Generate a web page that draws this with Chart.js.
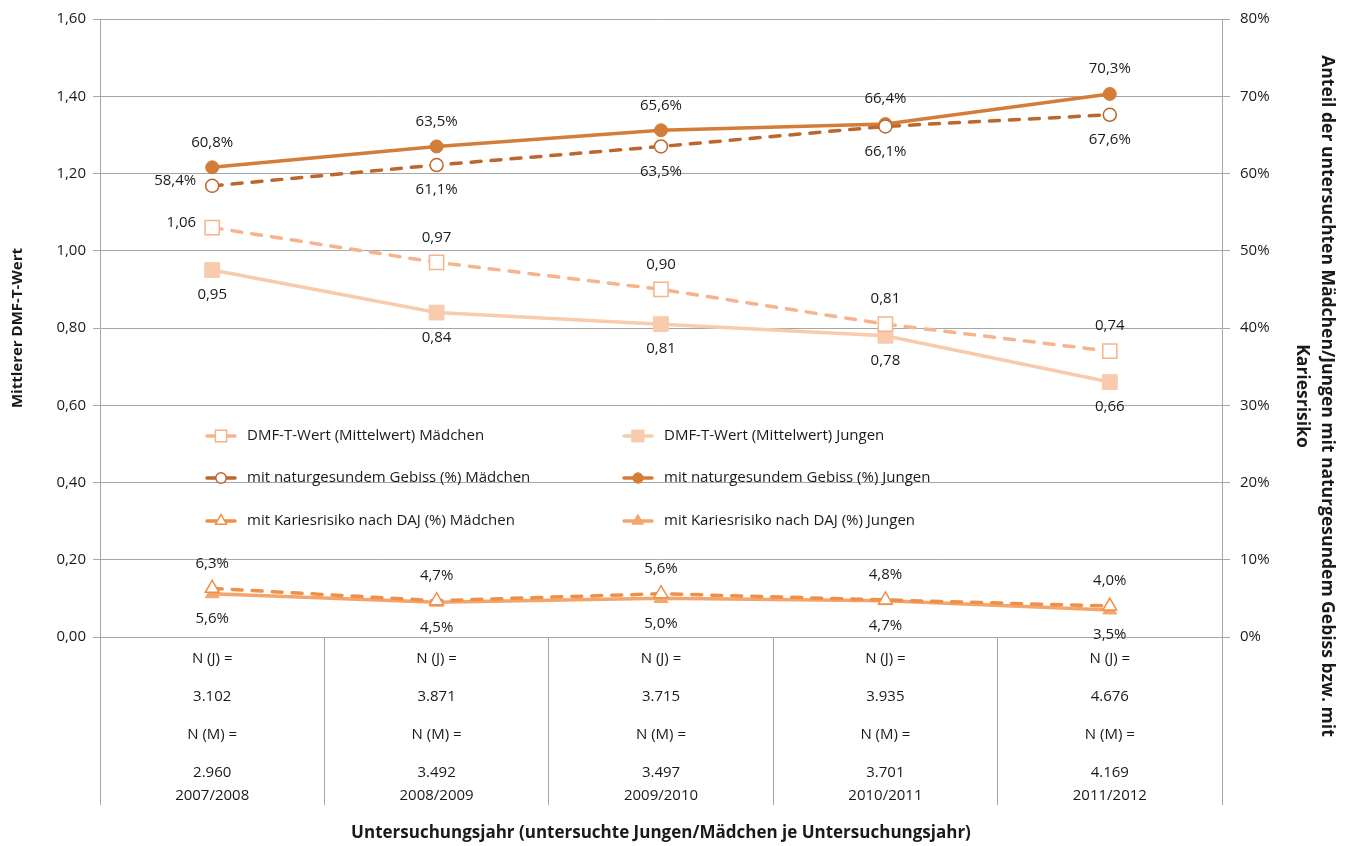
<!DOCTYPE html>
<html lang="de">
<head>
<meta charset="utf-8">
<title>DMF-T-Wert und Kariesrisiko</title>
<script src="https://cdn.jsdelivr.net/npm/chart.js@4.4.1/dist/chart.umd.min.js"></script>
<style>
  html, body { margin: 0; padding: 0; background: #fff; }
  #wrap { position: relative; width: 1347px; height: 846px; }
</style>
</head>
<body>
<div id="wrap"><canvas id="chart"></canvas></div>
<script>
// Untersuchungsjahre mit Anzahl untersuchter Jungen (J) / Mädchen (M)
var JAHRE = ['2007/2008', '2008/2009', '2009/2010', '2010/2011', '2011/2012'];
var N_JUNGEN = ['3.102', '3.871', '3.715', '3.935', '4.676'];
var N_MAEDCHEN = ['2.960', '3.492', '3.497', '3.701', '4.169'];

// mittlerer DMF-T-Wert (linke Achse)
var DMFT_MAEDCHEN = [1.06, 0.97, 0.90, 0.81, 0.74];
var DMFT_JUNGEN = [0.95, 0.84, 0.81, 0.78, 0.66];

// Anteile in % (rechte Achse)
var GESUND_MAEDCHEN = [58.4, 61.1, 63.5, 66.1, 67.6];
var GESUND_JUNGEN = [60.8, 63.5, 65.6, 66.4, 70.3];
var RISIKO_MAEDCHEN = [6.3, 4.7, 5.6, 4.8, 4.0];
var RISIKO_JUNGEN = [5.6, 4.5, 5.0, 4.7, 3.5];

var LEFT_TICKS = [0, 0.2, 0.4, 0.6, 0.8, 1.0, 1.2, 1.4, 1.6];
var RIGHT_TICKS = [0, 10, 20, 30, 40, 50, 60, 70, 80];

var RIGHT_TITLE = ['Anteil der untersuchten Mädchen/Jungen mit naturgesundem Gebiss bzw. mit', 'Kariesrisiko'];

var FONT = "'Open Sans', 'DejaVu Sans', sans-serif";
var GRID = '#a6a6a6';
var INK = '#1a1a1a';

function fmtDmft(v) { return v.toFixed(2).replace('.', ','); }
function fmtPct(v) { return v.toFixed(1).replace('.', ',') + '%'; }

// Zeilen der Kategorie-Beschriftung; Leerzeilen geben den Abstand vor (Zeilenhöhe 7,6px)
function leer(n) { var a = []; for (var k = 0; k < n; k++) a.push(''); return a; }
var kategorien = JAHRE.map(function (j, i) {
  return [].concat(
    ['N (J) ='], leer(4),
    [N_JUNGEN[i]], leer(4),
    ['N (M) ='], leer(4),
    [N_MAEDCHEN[i]], leer(2),
    [j]
  );
});

function serie(label, data, axis, color, dashed, style, radius, hollow, fmt, pos) {
  return {
    label: label,
    data: data,
    yAxisID: axis,
    borderColor: color,
    backgroundColor: color,
    borderWidth: 3.5,
    borderDash: dashed ? [10, 10] : [],
    borderCapStyle: 'round',
    pointStyle: style,
    pointRadius: radius,
    pointBorderColor: color,
    pointBackgroundColor: hollow ? '#ffffff' : color,
    pointBorderWidth: hollow ? 1.5 : 1,
    tension: 0,
    fill: false,
    fmt: fmt,
    labelPos: pos,
  };
}

var datasets = [
  serie('DMF-T-Wert (Mittelwert) Mädchen', DMFT_MAEDCHEN, 'y', '#f5b48c', true, 'rect', 10, true, fmtDmft,
    ['left', 'above', 'above', 'above', 'above']),
  serie('DMF-T-Wert (Mittelwert) Jungen', DMFT_JUNGEN, 'y', '#f8cbad', false, 'rect', 10.5, false, fmtDmft,
    ['below', 'below', 'below', 'below', 'below']),
  serie('mit naturgesundem Gebiss (%) Mädchen', GESUND_MAEDCHEN, 'y2', '#bb672d', true, 'circle', 6.5, true, fmtPct,
    ['left', 'below', 'below', 'below', 'below']),
  serie('mit naturgesundem Gebiss (%) Jungen', GESUND_JUNGEN, 'y2', '#d37d38', false, 'circle', 6.5, false, fmtPct,
    ['above', 'above', 'above', 'above', 'above']),
  serie('mit Kariesrisiko nach DAJ (%) Mädchen', RISIKO_MAEDCHEN, 'y2', '#ef9049', true, 'triangle', 8, true, fmtPct,
    ['above', 'above', 'above', 'above', 'above']),
  serie('mit Kariesrisiko nach DAJ (%) Jungen', RISIKO_JUNGEN, 'y2', '#f4a56c', false, 'triangle', 8, false, fmtPct,
    ['below', 'below', 'below', 'below', 'below']),
];

// Werte an den Punkten
var valueLabels = {
  id: 'valueLabels',
  afterDatasetsDraw: function (chart) {
    var ctx = chart.ctx;
    ctx.save();
    ctx.font = '15px ' + FONT;
    ctx.fillStyle = INK;
    ctx.textBaseline = 'middle';
    chart.data.datasets.forEach(function (ds, i) {
      chart.getDatasetMeta(i).data.forEach(function (pt, j) {
        var text = ds.fmt(ds.data[j]);
        var pos = ds.labelPos[j];
        if (pos === 'left') {
          ctx.textAlign = 'right';
          ctx.fillText(text, pt.x - 16, pt.y - 5);
        } else {
          ctx.textAlign = 'center';
          ctx.fillText(text, pt.x, pos === 'above' ? pt.y - 25 : pt.y + 25);
        }
      });
    });
    ctx.restore();
  },
};

// Legende zweispaltig innerhalb der Zeichenfläche
var innerLegend = {
  id: 'innerLegend',
  afterDatasetsDraw: function (chart) {
    var ctx = chart.ctx;
    var area = chart.chartArea;
    var cols = [area.left + 147, area.left + 564];
    var rows = [area.top + 417, area.top + 459, area.top + 502];
    ctx.save();
    chart.data.datasets.forEach(function (ds, i) {
      var tx = cols[i % 2];
      var ty = rows[Math.floor(i / 2)];
      var x0 = tx - 42, x1 = tx - 10;
      ctx.strokeStyle = ds.borderColor;
      ctx.lineWidth = ds.borderWidth;
      ctx.lineCap = 'round';
      ctx.beginPath();
      ctx.moveTo(x0 + 2, ty);
      ctx.lineTo(x1 - 2, ty);
      ctx.stroke();
      ctx.fillStyle = ds.pointBackgroundColor;
      ctx.strokeStyle = ds.pointBorderColor;
      ctx.lineWidth = ds.pointBorderWidth;
      Chart.helpers.drawPoint(ctx, {
        pointStyle: ds.pointStyle,
        radius: ds.pointRadius * 0.8,
        borderWidth: ds.pointBorderWidth,
        rotation: 0,
      }, (x0 + x1) / 2, ty);
      ctx.fillStyle = INK;
      ctx.font = '15px ' + FONT;
      ctx.textAlign = 'left';
      ctx.textBaseline = 'middle';
      ctx.fillText(ds.label, tx, ty);
    });
    ctx.restore();
  },
};

// Titel der rechten Achse, im Uhrzeigersinn gedreht, zweizeilig
var rightTitle = {
  id: 'rightTitle',
  afterDraw: function (chart) {
    var ctx = chart.ctx;
    var s = chart.scales.y2;
    var cy = chart.chartArea.top + 377;
    ctx.save();
    ctx.font = 'bold 17.5px ' + FONT;
    ctx.fillStyle = INK;
    ctx.textAlign = 'center';
    ctx.textBaseline = 'middle';
    RIGHT_TITLE.forEach(function (line, k) {
      ctx.save();
      ctx.translate(s.right - 20 - k * 25, cy);
      ctx.rotate(Math.PI / 2);
      ctx.fillText(line, 0, 0);
      ctx.restore();
    });
    ctx.restore();
  },
};

Chart.defaults.font.family = FONT;
Chart.defaults.font.size = 15;
Chart.defaults.color = INK;

new Chart(document.getElementById('chart').getContext('2d'), {
  type: 'line',
  data: { labels: kategorien, datasets: datasets },
  plugins: [valueLabels, innerLegend, rightTitle],
  options: {
    responsive: true,
    maintainAspectRatio: false,
    animation: false,
    layout: { padding: { top: 19, right: 0, bottom: 0, left: 0 } },
    plugins: {
      legend: { display: false },
      tooltip: { enabled: false },
    },
    scales: {
      x: {
        type: 'category',
        offset: true,
        grid: { offset: true, drawOnChartArea: false, color: GRID, tickLength: 168 },
        border: { color: GRID },
        ticks: { padding: -150, maxRotation: 0, autoSkip: false, font: { size: 15, lineHeight: '7.6px' } },
        title: {
          display: true,
          text: 'Untersuchungsjahr (untersuchte Jungen/Mädchen je Untersuchungsjahr)',
          font: { size: 17, weight: 'bold' },
          padding: { top: 0, bottom: 3 },
        },
        afterFit: function (s) { s.height = 209; },
      },
      y: {
        position: 'left',
        min: 0,
        max: 1.6,
        afterBuildTicks: function (s) { s.ticks = LEFT_TICKS.map(function (v) { return { value: v }; }); },
        grid: { color: GRID, tickLength: 7 },
        border: { color: GRID },
        ticks: { padding: 7, callback: function (v) { return fmtDmft(v); } },
        title: {
          display: true,
          text: 'Mittlerer DMF-T-Wert',
          font: { size: 15, weight: 'bold' },
          padding: { top: 9, bottom: 0 },
        },
        afterFit: function (s) { s.width = 100; },
      },
      y2: {
        position: 'right',
        min: 0,
        max: 80,
        afterBuildTicks: function (s) { s.ticks = RIGHT_TICKS.map(function (v) { return { value: v }; }); },
        grid: { drawOnChartArea: false, color: GRID, tickLength: 8 },
        border: { color: GRID },
        ticks: { padding: 10, callback: function (v) { return v + '%'; } },
        afterFit: function (s) { s.width = 125; },
      },
    },
  },
});
</script>
</body>
</html>
